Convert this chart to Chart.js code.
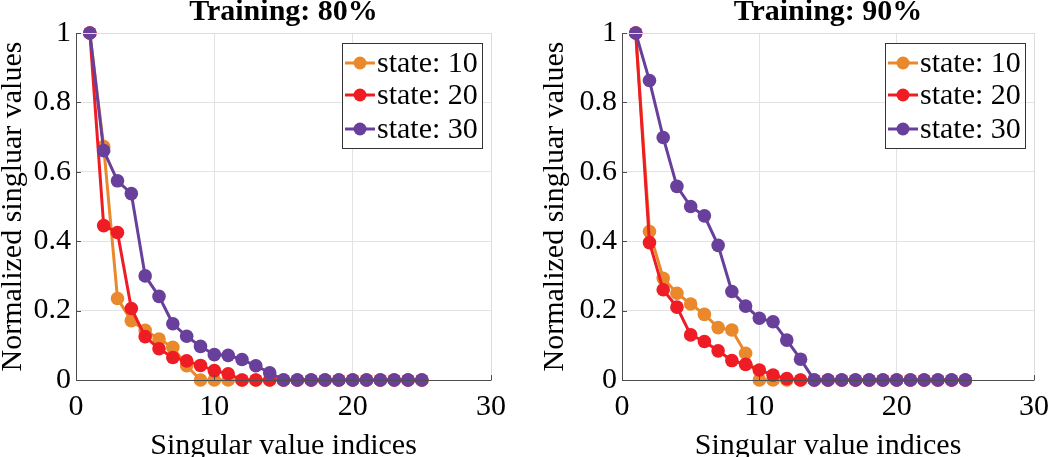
<!DOCTYPE html>
<html>
<head>
<meta charset="utf-8">
<script src="https://cdn.jsdelivr.net/npm/chart.js@4/dist/chart.umd.min.js"></script>
<style>
  html, body { margin: 0; padding: 0; background: #fff; }
  #wrap { position: relative; width: 1050px; height: 457px; overflow: hidden; }
  .box { position: absolute; top: 0; height: 457px; }
</style>
</head>
<body>
<div id="wrap">
  <div class="box" style="left:0;width:530px"><canvas id="c80"></canvas></div>
  <div class="box" style="left:542px;width:508px"><canvas id="c90"></canvas></div>
</div>
<script>
// singular value index (x)
const indices = [1,2,3,4,5,6,7,8,9,10,11,12,13,14,15,16,17,18,19,20,21,22,23,24,25];
const seriesNames = ['state: 10', 'state: 20', 'state: 30'];
const seriesColors = ['#ea882c', '#ee1d25', '#68409b'];

// Training: 80%
const train80_s10 = [1, 0.673, 0.235, 0.171, 0.143, 0.118, 0.094, 0.041, 0, 0, 0, 0, 0, 0, 0, 0, 0, 0, 0, 0, 0, 0, 0, 0, 0];
const train80_s20 = [1, 0.445, 0.425, 0.206, 0.125, 0.090, 0.065, 0.055, 0.042, 0.027, 0.018, 0, 0, 0, 0, 0, 0, 0, 0, 0, 0, 0, 0, 0, 0];
const train80_s30 = [1, 0.661, 0.574, 0.537, 0.300, 0.241, 0.162, 0.126, 0.097, 0.073, 0.071, 0.059, 0.041, 0.021, 0, 0, 0, 0, 0, 0, 0, 0, 0, 0, 0];

// Training: 90%
const train90_s10 = [1, 0.428, 0.293, 0.250, 0.219, 0.189, 0.151, 0.144, 0.077, 0, 0, 0, 0, 0, 0, 0, 0, 0, 0, 0, 0, 0, 0, 0, 0];
const train90_s20 = [1, 0.396, 0.260, 0.210, 0.130, 0.111, 0.084, 0.056, 0.045, 0.029, 0.014, 0.004, 0, 0, 0, 0, 0, 0, 0, 0, 0, 0, 0, 0, 0];
const train90_s30 = [1, 0.863, 0.699, 0.558, 0.500, 0.473, 0.388, 0.255, 0.213, 0.178, 0.168, 0.115, 0.060, 0, 0, 0, 0, 0, 0, 0, 0, 0, 0, 0, 0];

const xTicks = [0, 10, 20, 30];
const yTicks = [0, 0.2, 0.4, 0.6, 0.8, 1];

const FONT = '"Liberation Serif", "Times New Roman", serif';

function toPoints(vals) {
    return vals.map((v, i) => ({ x: indices[i], y: v }));
}

// MATLAB-like box: light top/right, dark left/bottom with inward ticks
const axesBox = {
    id: 'axesBox',
    afterDraw(chart) {
        const { ctx, chartArea: a, scales } = chart;
        ctx.save();
        ctx.lineWidth = 1;
        ctx.strokeStyle = '#dcdcdc';
        ctx.beginPath();
        ctx.moveTo(a.left, a.top + 0.5); ctx.lineTo(a.right + 0.5, a.top + 0.5);
        ctx.lineTo(a.right + 0.5, a.bottom);
        ctx.stroke();
        ctx.strokeStyle = '#4d4d4d';
        ctx.beginPath();
        ctx.moveTo(a.left + 0.5, a.top); ctx.lineTo(a.left + 0.5, a.bottom + 0.5);
        ctx.lineTo(a.right + 0.5, a.bottom + 0.5);
        xTicks.forEach(t => {
            const px = Math.round(scales.x.getPixelForValue(t)) + 0.5;
            ctx.moveTo(px, a.bottom); ctx.lineTo(px, a.bottom - 5);
        });
        yTicks.forEach(t => {
            const py = Math.round(scales.y.getPixelForValue(t)) + 0.5;
            ctx.moveTo(a.left, py); ctx.lineTo(a.left + 5, py);
        });
        ctx.stroke();
        ctx.restore();
    }
};

// title and legend box inside the plot
const overlay = {
    id: 'overlay',
    afterDraw(chart, args, opts) {
        const { ctx, chartArea: a } = chart;
        ctx.save();
        ctx.fillStyle = '#000';
        ctx.font = 'bold 30px ' + FONT;
        ctx.textAlign = 'center';
        ctx.textBaseline = 'alphabetic';
        ctx.fillText(opts.title, (a.left + a.right) / 2, 20);

        const w = 140, h = 105;
        const bx = a.right - 9 - w, by = a.top + 10;
        ctx.fillStyle = '#fff';
        ctx.fillRect(bx, by, w, h);
        ctx.strokeStyle = '#333';
        ctx.lineWidth = 1;
        ctx.strokeRect(Math.round(bx) + 0.5, Math.round(by) + 0.5, w, h);
        const rows = [20, 52, 86];
        chart.data.datasets.forEach((ds, i) => {
            const y = by + rows[i];
            ctx.strokeStyle = ds.borderColor;
            ctx.lineWidth = 3;
            ctx.beginPath();
            ctx.moveTo(bx + 3, y); ctx.lineTo(bx + 33, y);
            ctx.stroke();
            ctx.fillStyle = ds.borderColor;
            ctx.beginPath();
            ctx.arc(bx + 18, y, 6.5, 0, Math.PI * 2);
            ctx.fill();
            ctx.fillStyle = '#000';
            ctx.font = '30px ' + FONT;
            ctx.textAlign = 'left';
            ctx.textBaseline = 'middle';
            ctx.fillText(ds.label, bx + 35, y + 1);
        });
        ctx.restore();
    }
};

function makeChart(id, title, series, yWidth, rightPad) {
    const datasets = series.map((vals, i) => ({
        label: seriesNames[i],
        data: toPoints(vals),
        borderColor: seriesColors[i],
        backgroundColor: seriesColors[i],
        pointBackgroundColor: seriesColors[i],
        pointBorderColor: seriesColors[i],
        borderWidth: 3,
        pointRadius: 6.8,
        pointBorderWidth: 0,
        tension: 0,
        clip: false,
        order: 3 - i
    }));
    return new Chart(document.getElementById(id), {
        type: 'line',
        data: { datasets },
        options: {
            responsive: true,
            maintainAspectRatio: false,
            animation: false,
            layout: { padding: { top: 33, right: rightPad, left: 0, bottom: 0 } },
            plugins: {
                legend: { display: false },
                tooltip: { enabled: false },
                overlay: { title: title }
            },
            scales: {
                x: {
                    type: 'linear',
                    min: 0, max: 30,
                    afterBuildTicks: s => { s.ticks = xTicks.map(v => ({ value: v })); },
                    afterFit: s => { s.height = 77; s.paddingLeft = 0; s.paddingRight = 0; },
                    grid: { color: '#e3e3e3', drawTicks: false },
                    border: { display: false },
                    ticks: { color: '#000', font: { family: FONT, size: 30 }, padding: 9, maxRotation: 0,
                             callback: v => String(Math.round(v * 10) / 10) },
                    title: { display: true, text: 'Singular value indices', color: '#000',
                             font: { family: FONT, size: 30 }, padding: { top: 0, bottom: -7 } }
                },
                y: {
                    min: 0, max: 1,
                    afterBuildTicks: s => { s.ticks = yTicks.map(v => ({ value: v })); },
                    afterFit: s => { s.width = yWidth; s.paddingTop = 0; s.paddingBottom = 0; },
                    grid: { color: '#e3e3e3', drawTicks: false },
                    border: { display: false },
                    ticks: { color: '#000', font: { family: FONT, size: 30 }, padding: 5,
                             callback: v => String(Math.round(v * 10) / 10) },
                    title: { display: true, text: 'Normalized singluar values', color: '#000',
                             font: { family: FONT, size: 30 }, padding: { top: -5, bottom: 0 } }
                }
            }
        },
        plugins: [axesBox, overlay]
    });
}

makeChart('c80', 'Training: 80%', [train80_s10, train80_s20, train80_s30], 76, 39);
makeChart('c90', 'Training: 90%', [train90_s10, train90_s20, train90_s30], 80, 16);
</script>
</body>
</html>
